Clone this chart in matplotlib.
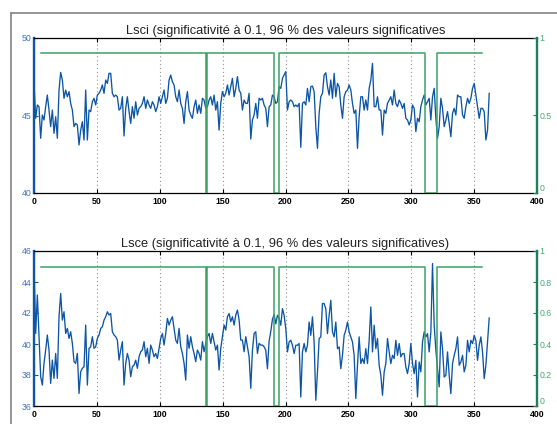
import numpy as np
import matplotlib
matplotlib.use("Agg")
import matplotlib.pyplot as plt
from matplotlib.lines import Line2D

plt.rcParams['font.family'] = ['Liberation Sans', 'DejaVu Sans']

# ---------------- data ----------------
series_end = 362  # last sample position (x)

lsci_values = [
    47.18, 44.82, 45.68, 45.57, 43.53, 45.03, 44.71, 45.57, 46.32, 45.35,
    44.28, 45.35, 43.85, 44.92, 43.53, 46.64, 47.78, 47.29, 46.11, 46.64,
    46.21, 46.54, 45.78, 45.35, 44.28, 44.49, 44.39, 43.10, 44.06, 44.60,
    43.42, 46.64, 43.42, 45.35, 45.25, 45.89, 46.11, 45.68, 46.32, 46.43,
    46.64, 46.97, 46.43, 47.29, 47.07, 47.72, 47.72, 46.43, 46.21, 46.32,
    46.21, 45.35, 45.46, 46.21, 43.68, 45.46, 46.21, 45.25, 44.49, 45.57,
    44.82, 45.89, 45.03, 45.46, 45.57, 45.78, 46.21, 45.46, 46.00, 45.68,
    45.46, 45.89, 45.68, 45.25, 45.57, 46.21, 45.78, 46.21, 46.64, 45.78,
    46.11, 47.29, 47.61, 47.18, 46.97, 46.21, 45.89, 46.64, 45.78, 45.46,
    44.49, 45.89, 46.54, 45.35, 45.03, 44.82, 45.57, 46.00, 45.14, 45.68,
    45.14, 46.11, 46.00, 45.46, 45.57, 46.00, 46.21, 45.68, 46.32, 45.35,
    45.89, 44.06, 45.78, 46.54, 46.21, 46.43, 46.97, 46.32, 46.86, 47.40,
    46.21, 46.75, 47.51, 46.64, 46.43, 45.35, 46.00, 45.78, 45.78, 46.43,
    43.48, 44.71, 45.03, 45.78, 44.82, 46.11, 46.00, 46.11, 45.68,
    45.46, 44.28, 45.57, 45.68, 46.32, 46.21, 45.78, 45.89, 46.86, 46.75,
    47.40, 47.61, 47.83, 45.35, 45.89, 46.00, 45.89, 45.57, 45.68, 45.57,
    45.78, 42.95, 45.78, 45.89, 45.68, 46.75, 45.89, 46.86, 46.90, 46.54,
    44.28, 42.88, 45.14, 46.21, 46.43, 47.61, 47.76, 46.86, 46.32, 47.29,
    46.11, 47.72, 46.21, 47.07, 46.86, 45.68, 44.82, 46.21, 46.54, 46.64,
    46.97, 46.64, 45.78, 45.14, 45.35, 42.88, 44.92, 46.21, 46.21, 45.35,
    46.00, 45.35, 46.75, 47.29, 48.36, 45.57, 45.57, 46.21, 45.35, 45.35,
    43.74, 45.35, 45.14, 45.78, 46.00, 46.21, 45.68, 46.64, 45.78, 45.57,
    46.00, 45.78, 45.46, 45.78, 44.82, 44.71, 44.39, 44.71, 45.68, 45.46,
    43.96, 44.82, 44.60, 45.57, 46.00, 46.32, 45.68, 45.89, 46.11, 44.71,
    46.21, 46.75, 44.82, 43.53, 44.28, 46.11, 45.46, 44.28, 44.71, 45.25,
    44.49, 43.63, 45.14, 45.46, 45.03, 46.32, 46.21, 46.21, 45.03, 44.82,
    45.57, 46.11, 45.78, 46.11, 46.75, 47.07, 46.32, 45.57, 44.82, 45.46,
    45.46, 45.25, 43.42, 44.06, 46.43,
]

lsce_values = [
    45.20, 40.68, 43.16, 40.50, 37.89, 37.35, 38.75, 39.61, 40.58, 39.61,
    37.46, 38.96, 37.78, 39.39, 37.78, 41.76, 43.26, 41.54, 42.08, 40.68,
    41.01, 40.36, 40.79, 40.04, 38.86, 38.75, 39.39, 36.81, 38.21, 38.43,
    38.53, 41.22, 37.35, 39.72, 39.82, 40.47, 39.72, 39.82, 40.36, 40.58,
    41.01, 41.11, 41.54, 41.76, 42.08, 41.87, 41.97, 40.79, 40.58, 40.47,
    40.25, 38.96, 39.61, 40.15, 37.35, 38.75, 39.39, 38.96, 37.89, 38.53,
    38.64, 38.96, 38.43, 39.18, 39.50, 39.61, 40.15, 39.18, 39.72, 38.75,
    39.93, 39.61, 39.18, 39.39, 39.07, 39.72, 40.36, 40.68, 39.93, 40.68,
    41.65, 41.22, 41.54, 41.76, 41.01, 40.25, 40.04, 41.01, 39.82, 39.39,
    38.75, 37.67, 40.58, 39.72, 40.47, 39.82, 39.39, 38.86, 39.61, 39.39,
    38.96, 40.15, 39.50, 40.04, 40.47, 40.68, 40.04, 40.68, 40.15, 39.61,
    39.93, 38.32, 39.72, 40.47, 41.22, 40.90, 41.76, 41.97, 41.44, 41.76,
    41.22, 41.87, 42.19, 41.54, 40.25, 40.25, 39.50, 40.47, 39.82, 39.18,
    37.14, 39.61, 40.68, 40.79, 39.39, 40.04, 39.93, 39.93, 39.82,
    39.60, 38.40, 40.20, 40.80, 41.60, 41.90, 41.30,
    41.85, 41.64, 41.21, 42.28, 41.85, 40.99, 39.49, 40.13, 40.24, 39.92,
    39.38, 39.92, 39.92, 40.03, 36.58, 39.49, 40.03, 39.49, 39.92, 41.42,
    40.56, 41.75, 40.13, 36.37, 38.20, 40.35, 40.46, 42.61, 42.61, 42.28,
    40.67, 41.85, 42.82, 40.78, 40.46, 41.42, 39.70, 39.81, 38.41, 39.27,
    40.56, 40.89, 41.42, 40.78, 40.46, 40.13, 39.27, 36.48, 38.63, 40.46,
    38.74, 39.06, 38.74, 39.70, 38.74, 40.24, 42.39, 39.49, 41.21, 39.70,
    40.35, 38.63, 37.98, 36.69, 38.20, 38.74, 40.35, 39.49, 38.74, 39.27,
    39.06, 40.24, 39.27, 40.03, 39.17, 39.38, 39.38, 38.52, 38.09, 38.74,
    40.03, 38.74, 38.09, 38.95, 36.58, 38.84, 38.20, 40.13, 40.78, 40.46,
    40.67, 39.49, 40.78, 45.19, 41.21, 39.60, 38.41, 37.23, 40.78, 39.70,
    37.87, 37.98, 39.49, 37.98, 36.80, 38.74, 39.27, 39.70, 40.46, 38.63,
    38.84, 39.27, 38.20, 38.63, 40.24, 39.49, 40.24, 40.03, 40.56, 40.24,
    38.95, 39.92, 40.46, 39.49, 37.77, 38.63, 40.13, 41.68,
]

# significance indicator (step curve, right axis)
sig_x = [5.3, 136.6, 136.6, 137.9, 137.9, 190.6, 190.6, 194.6, 194.6,
         310.7, 310.7, 320.5, 320.5, 356.3]
sig_y = [0.9, 0.9, 0.0, 0.0, 0.9, 0.9, 0.0, 0.0, 0.9,
         0.9, 0.0, 0.0, 0.9, 0.9]

titles = ["Lsci (significativité à 0.1, 96 % des valeurs significatives",
          "Lsce (significativité à 0.1, 96 % des valeurs significatives)"]
left_ylims = [(40, 50), (36, 46)]
left_yticks = [[40, 45, 50], [36, 38, 40, 42, 44, 46]]
right_yticks = [[0, 0.5, 1], [0, 0.2, 0.4, 0.6, 0.8, 1]]
right_ylabels = [["0", "0.5", "1"], ["0", "0.2", "0.4", "0.6", "0.8", "1"]]
x_ticks = [0, 50, 100, 150, 200, 250, 300, 350, 400]
series = [lsci_values, lsce_values]

# ---------------- style ----------------
BLUE = '#0d55a5'
BLUE_LBL = '#3a74c0'
GREEN = '#3aa265'
GREEN_SP = '#1f7f5c'
GREEN_LBL = '#45ad72'

W, H = 557, 424
fig = plt.figure(figsize=(W / 100, H / 100), dpi=100)
fig.patch.set_facecolor('white')

# gray frame (screenshot border)
fig.add_artist(Line2D([11 / W, 11 / W], [0, 1 - 13 / H], transform=fig.transFigure,
                      color='#8c8c8c', lw=1.3))
fig.add_artist(Line2D([11 / W, 1], [1 - 13 / H, 1 - 13 / H], transform=fig.transFigure,
                      color='#8c8c8c', lw=1.3))

rects = [
    [34 / W, 1 - 193 / H, 503 / W, 155 / H],
    [34 / W, 1 - 406 / H, 503 / W, 155 / H],
]

for i in range(2):
    ax = fig.add_axes(rects[i])
    vals = series[i]
    x = np.linspace(0, series_end, len(vals))
    ax.plot(x, vals, color=BLUE, lw=0.95, zorder=3)
    ax.set_xlim(0, 400)
    ax.set_ylim(*left_ylims[i])
    ax.set_xticks(x_ticks)
    ax.set_xticklabels([str(t) for t in x_ticks], fontweight='bold')
    ax.set_yticks(left_yticks[i])
    ax.xaxis.grid(True, linestyle=(0, (1, 2.5)), color='#909090', lw=0.8)
    ax.tick_params(axis='x', direction='in', top=True, length=3, width=0.8,
                   labelsize=6.3, pad=3, colors='black')
    ax.tick_params(axis='y', direction='in', length=3, width=0.8,
                   labelsize=6.3, pad=2, colors=BLUE, labelcolor=BLUE_LBL)
    for s in ['top', 'bottom']:
        ax.spines[s].set_color('black')
        ax.spines[s].set_linewidth(0.9)
    ax.spines['left'].set_color(BLUE)
    ax.spines['left'].set_linewidth(1.7)
    ax.spines['right'].set_visible(False)
    ax.set_title(titles[i], fontsize=9.3, color='#222222', pad=3)

    ax2 = ax.twinx()
    ax2.plot(sig_x, sig_y, color=GREEN, lw=1.1)
    ax2.set_ylim(0, 1)
    ax2.set_xlim(0, 400)
    ax2.set_yticks(right_yticks[i])
    ax2.set_yticklabels(right_ylabels[i])
    ax2.tick_params(axis='y', direction='in', length=3, width=0.8,
                    labelsize=6.3, pad=2, colors=GREEN_SP, labelcolor=GREEN_LBL)
    # keep the bottom "0" label clear of the "400" x label
    ax2.get_yticklabels()[0].set_verticalalignment('bottom')
    for s in ['top', 'bottom', 'left']:
        ax2.spines[s].set_visible(False)
    ax2.spines['right'].set_color(GREEN_SP)
    ax2.spines['right'].set_linewidth(1.7)

fig.savefig('out.png', dpi=100)
